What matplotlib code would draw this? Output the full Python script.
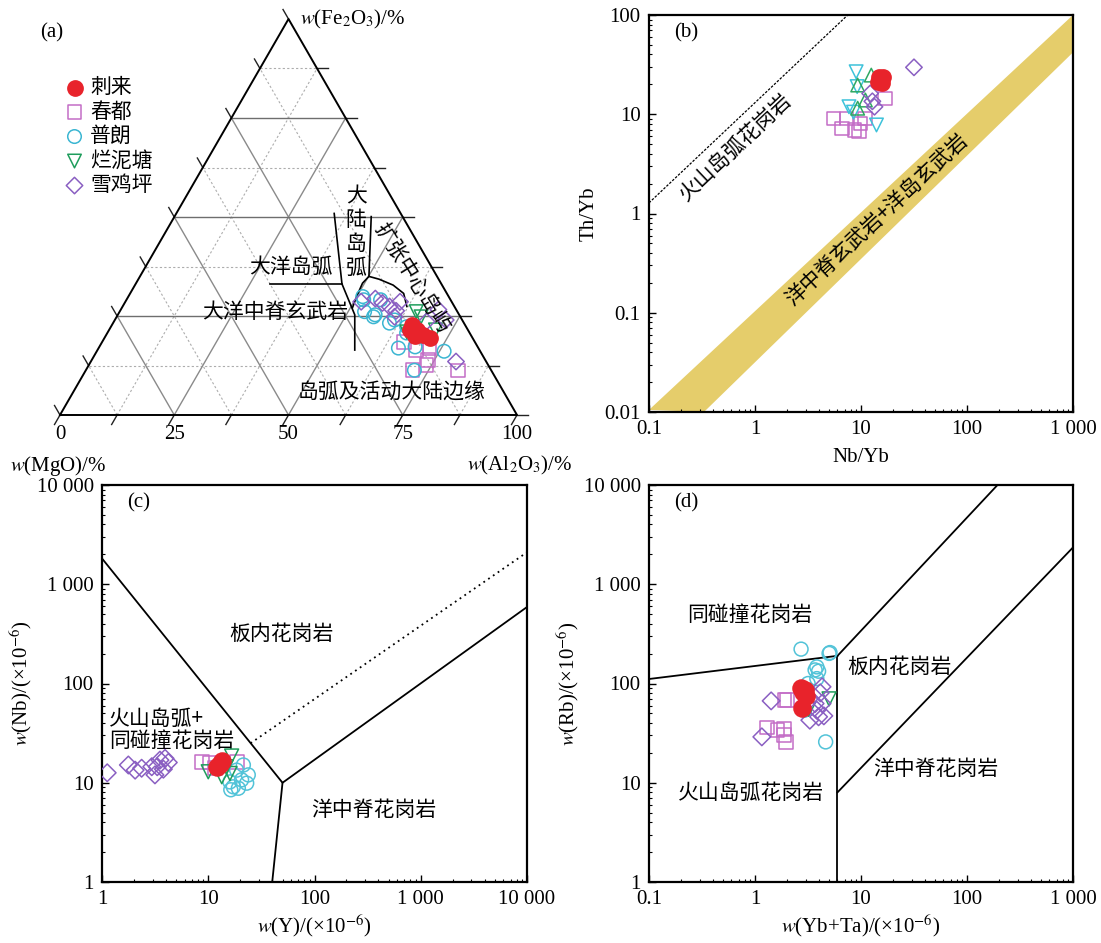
import numpy as np
import matplotlib.pyplot as plt
from matplotlib.ticker import LogLocator, FuncFormatter, NullFormatter

plt.rcParams['font.family'] = ['Liberation Serif', 'Noto Sans CJK SC']
plt.rcParams['mathtext.fontset'] = 'stix'
plt.rcParams['axes.unicode_minus'] = False

CJK = ['Noto Sans CJK SC', 'DejaVu Sans']
FS = 15

# sample groups and styles
names = ['刺来', '春都', '普朗', '烂泥塘', '雪鸡坪']
colors = ['#e8232b', '#c36dc6', '#3bb6d2', '#1f9d5c', '#8a5fc2']

# (a) MgO-Fe2O3-Al2O3, percent (MgO = 100 - Al2O3 - Fe2O3)
a_al = {
    '刺来': [65.6, 67.5, 69.4, 71.3, 67.7, 65.9],
    '春都': [66.0, 69.7, 72.4, 73.6, 73.9, 71.5, 81.5],
    '普朗': [51.3, 56.2, 53.6, 55.6, 61.2, 71.9, 65.6, 76.0, 65.5, 56.3, 69.1, 51.9, 64.7, 60.5],
    '烂泥塘': [64.9, 65.4, 71.4, 66.6],
    '雪鸡坪': [51.6, 54.3, 58.4, 60.1, 69.5, 72.4, 79.9, 68.4, 60.8, 56.4, 60.4],
}
a_fe = {
    '刺来': [22.7, 21.4, 20.2, 19.4, 20.0, 21.5],
    '春都': [18.5, 16.4, 16.9, 13.9, 12.6, 11.3, 11.2],
    '普朗': [29.9, 24.8, 26.1, 29.1, 24.0, 11.3, 16.9, 16.1, 20.7, 25.3, 17.2, 29.1, 22.3, 23.2],
    '烂泥塘': [26.1, 21.0, 21.5, 24.8],
    '雪鸡坪': [28.6, 29.4, 27.4, 28.6, 26.6, 24.0, 13.5, 23.6, 24.8, 28.3, 26.3],
}

# field boundaries in (a): (Al2O3, Fe2O3) percent
bnd_al = [[29.45, 45.15],
          [34.55, 45.15, 51.85, 56.3],
          [43.05, 50.1, 49.55, 49.9, 50.45],
          [50.1, 52.65, 56.5, 59.85, 62.2]]
bnd_fe = [[33.1, 33.1],
          [50.9, 33.1, 25.3, 16.4],
          [50.1, 35.0, 33.3, 30.25, 27.1],
          [35.0, 34.3, 32.8, 30.7, 27.4]]

# (b) Nb/Yb vs Th/Yb
b_x = {
    '刺来': [14.5, 15.3, 16.0, 14.8, 15.8],
    '春都': [5.5, 6.6, 7.3, 8.7, 9.6, 9.9, 10.9, 16.9],
    '普朗': [9.0, 7.7, 14.0, 9.2, 8.5],
    '烂泥塘': [12.5, 9.3, 11.0, 9.3],
    '雪鸡坪': [31.6, 12.2, 13.4, 12.8],
}
b_y = {
    '刺来': [21.0, 22.1, 23.5, 24.0, 20.5],
    '春都': [9.1, 7.2, 9.1, 6.9, 6.7, 8.1, 9.1, 14.4],
    '普朗': [26.8, 11.9, 7.8, 19.0, 10.5],
    '烂泥塘': [24.8, 19.7, 13.9, 11.5],
    '雪鸡坪': [29.7, 16.2, 11.9, 13.5],
}

# (c) Y vs Nb
c_x = {
    '刺来': [12.0, 12.8, 13.5],
    '春都': [8.7, 10.4, 11.6, 18.5],
    '普朗': [21.4, 23.8, 20.6, 17.2, 19.2, 16.0, 23.0, 18.5, 16.3],
    '烂泥塘': [10.0, 16.6, 13.4, 16.0, 14.8],
    '雪鸡坪': [1.12, 1.77, 2.05, 2.36, 2.94, 3.15, 3.51, 3.92, 3.78, 4.21, 3.31],
}
c_y = {
    '刺来': [14.5, 15.5, 16.5],
    '春都': [16.3, 16.0, 14.0, 16.3],
    '普朗': [15.1, 12.0, 10.7, 9.1, 8.8, 10.2, 9.9, 13.4, 8.5],
    '烂泥塘': [12.9, 18.6, 11.5, 12.4, 14.5],
    '雪鸡坪': [12.6, 15.1, 13.4, 14.0, 14.5, 12.0, 16.9, 17.6, 13.7, 16.0, 14.5],
}

# (d) Yb+Ta vs Rb
d_x = {
    '刺来': [2.7, 2.95, 3.05, 2.75, 2.85],
    '春都': [1.90, 2.0, 1.30, 1.63, 1.86, 1.86, 1.96],
    '普朗': [2.72, 5.0, 3.83, 3.69, 3.98, 3.83, 3.17, 2.93, 4.64, 5.1],
    '烂泥塘': [5.0, 3.2],
    '雪鸡坪': [1.42, 1.16, 4.29, 4.13, 3.69, 3.29, 3.98, 4.46, 4.29, 3.83],
}
d_y = {
    '刺来': [90, 86, 75, 57, 82],
    '春都': [67.5, 68, 36, 34.3, 35, 30.1, 25.8],
    '普朗': [222, 201, 147, 137, 133, 112, 100, 53.8, 25.8, 205],
    '烂泥塘': [70, 55],
    '雪鸡坪': [66.8, 29, 92.6, 80.5, 62.8, 42.7, 46.2, 47.2, 62.8, 53.8],
}

H = np.sqrt(3) / 2


def tern(al, fe):
    a = np.asarray(al) / 100.0
    f = np.asarray(fe) / 100.0
    return a + f / 2, f * H


def log_fmt(v, pos):
    if v >= 1:
        return f'{int(round(v)):,}'.replace(',', ' ')
    return f'{v:g}'


def style_log(ax, xlim, ylim):
    ax.set_xscale('log')
    ax.set_yscale('log')
    ax.set_xlim(*xlim)
    ax.set_ylim(*ylim)
    for s in ax.spines.values():
        s.set_linewidth(1.6)
    for axis in (ax.xaxis, ax.yaxis):
        axis.set_major_locator(LogLocator(base=10, numticks=10))
        axis.set_minor_locator(LogLocator(base=10, subs=np.arange(2, 10), numticks=20))
        axis.set_major_formatter(FuncFormatter(log_fmt))
        axis.set_minor_formatter(NullFormatter())
    ax.tick_params(which='major', direction='in', length=5, width=1.0, labelsize=FS, pad=6)
    ax.tick_params(which='minor', direction='in', length=2.5, width=0.8)


fig = plt.figure(figsize=(11.01, 9.43), dpi=100)

# ---------------- (a) ternary ----------------
axa = fig.add_axes([60 / 1101, 528 / 943, 457 / 1101, 396 / 943])
axa.set_xlim(0, 1)
axa.set_ylim(0, H)
axa.axis('off')

ext = 0.024
for k in range(0, 9):
    v = k / 8
    solid = k % 2 == 0
    inner = 0 < k < 8
    if inner:
        kw = dict(color='#8a8a8a', lw=1.0, ls='-') if solid else dict(color='#adadad', lw=0.8, ls=(0, (2, 2)))
        hcol = '#6e6e6e' if solid else '#adadad'
        # constant Fe2O3 (horizontal)
        axa.plot([v / 2, 1 - v / 2], [v * H, v * H], **{**kw, 'color': hcol}, zorder=1)
        # constant Al2O3
        axa.plot([v, v + (1 - v) / 2], [0, (1 - v) * H], **kw, zorder=1)
        # constant MgO
        axa.plot([1 - v, (1 - v) / 2], [0, (1 - v) * H], **kw, zorder=1)
    # outer ticks
    if k < 8:
        axa.plot([1 - v / 2, 1 - v / 2 + ext], [v * H, v * H], color='#222222', lw=1.0, clip_on=False)
    axa.plot([v, v - ext / 2], [0, -ext * H], color='#222222', lw=1.0, clip_on=False)
    axa.plot([(1 - v) / 2, (1 - v) / 2 - ext / 2], [(1 - v) * H, (1 - v) * H + ext * H],
             color='#222222', lw=1.0, clip_on=False)

axa.plot([0, 1, 0.5, 0], [0, 0, H, 0], color='black', lw=1.4, clip_on=False, zorder=3)

for bal, bfe in zip(bnd_al, bnd_fe):
    bx, by = tern(bal, bfe)
    axa.plot(bx, by, color='black', lw=1.2, zorder=3)

tern_markers = {'刺来': 'o', '春都': 's', '普朗': 'o', '烂泥塘': 'v', '雪鸡坪': 'D'}
handles = []
for n, c in zip(names, colors):
    x, y = tern(a_al[n], a_fe[n])
    filled = n == '刺来'
    m = tern_markers[n]
    h = axa.scatter(x, y, marker=m, s=(120 if filled else (70 if m == 'D' else 95)),
                    facecolors=(c if filled else 'none'), edgecolors=c,
                    linewidths=1.1, zorder=5 if filled else 4, clip_on=False)
    handles.append(h)

axa.legend(handles, names, loc='upper left', bbox_to_anchor=(62 / 1101, 1 - 76 / 943),
           bbox_transform=fig.transFigure, frameon=False, prop={'family': CJK, 'size': FS},
           handletextpad=0.15, labelspacing=0.12, borderaxespad=0, handlelength=1.2,
           borderpad=0)

txt = dict(family=CJK, fontsize=FS, ha='center', va='center', zorder=6)
axa.text(0.648, 0.400, '大\n陆\n岛\n弧', linespacing=1.1, **txt)
axa.text(0.506, 0.324, '大洋岛弧', **txt)
axa.text(0.471, 0.226, '大洋中脊玄武岩', **txt)
axa.text(0.771, 0.301, '扩张中心岛屿', rotation=-58, **txt)
axa.text(0.725, 0.051, '岛弧及活动大陆边缘', **txt)

for k, lab in enumerate(['0', '25', '50', '75', '100']):
    axa.text(k / 4, -0.022, lab, fontsize=FS, ha='center', va='top')
axa.text(-0.003, -0.085, r'$w$(MgO)/%', fontsize=FS, ha='center', va='top')
axa.text(1.005, -0.085, r'$w$(Al$_2$O$_3$)/%', fontsize=FS, ha='center', va='top')
axa.text(0.525, H, r'$w$(Fe$_2$O$_3$)/%', fontsize=FS, ha='left', va='center')
fig.text(40 / 1101, 1 - 33 / 943, '(a)', fontsize=FS, ha='left', va='center')

# ---------------- (b) Th/Yb - Nb/Yb ----------------
axb = fig.add_axes([649 / 1101, 531 / 943, 424 / 1101, 397 / 943])
style_log(axb, (0.1, 1000), (0.01, 100))
band_x = [0.1, 1000, 1000, 0.33]
band_y = [0.0105, 100, 42, 0.01]
axb.fill(band_x, band_y, color='#e5cd6b', lw=0, zorder=1)
axb.plot([0.1, 7.5], [1.28, 100], color='black', lw=0.9, ls=(0, (2, 1.2)), zorder=2)
axb.text(0.66, 4.7, '火山岛弧花岗岩', rotation=43.4, **txt)
axb.text(14, 0.86, '洋中脊玄武岩+洋岛玄武岩', rotation=43.1, **txt)
b_markers = {'刺来': 'o', '春都': 's', '普朗': 'v', '烂泥塘': '^', '雪鸡坪': 'D'}
b_colors = dict(zip(names, colors))
b_colors['普朗'] = '#3dc2da'
b_colors['烂泥塘'] = '#2fa862'
for n in names:
    filled = n == '刺来'
    m = b_markers[n]
    axb.scatter(b_x[n], b_y[n], marker=m, s=(120 if filled else (70 if m == 'D' else 95)),
                facecolors=(b_colors[n] if filled else 'none'), edgecolors=b_colors[n],
                linewidths=1.1, zorder=5 if filled else 4)
axb.text(0.06, 0.955, '(b)', transform=axb.transAxes, fontsize=FS, ha='left', va='center')
axb.set_xlabel('Nb/Yb', fontsize=FS, labelpad=6)
axb.set_ylabel('Th/Yb', fontsize=FS, labelpad=4)

# ---------------- (c) Nb - Y ----------------
axc = fig.add_axes([102 / 1101, 61 / 943, 425 / 1101, 397 / 943])
style_log(axc, (1, 10000), (1, 10000))
axc.plot([1, 50, 10000], [1820, 10, 590], color='black', lw=1.3, zorder=2)
axc.plot([50, 40], [10, 1], color='black', lw=1.3, zorder=2)
axc.plot([25, 10000], [25, 2100], color='black', lw=1.3, ls=(0, (1, 2.2)), zorder=2)
axc.text(48.5, 319, '板内花岗岩', **txt)
axc.text(1.16, 34, '火山岛弧+\n同碰撞花岗岩', family=CJK, fontsize=FS, ha='left', va='center',
         linespacing=1.05)
axc.text(365, 5.36, '洋中脊花岗岩', **txt)
c_markers = {'刺来': 'o', '春都': 's', '普朗': 'o', '烂泥塘': 'v', '雪鸡坪': 'D'}
for n, c in zip(names, colors):
    filled = n == '刺来'
    m = c_markers[n]
    cc = '#52c3d8' if n == '普朗' else c
    axc.scatter(c_x[n], c_y[n], marker=m, s=(150 if filled else (80 if m == 'D' else 100)),
                facecolors=(cc if filled else 'none'), edgecolors=cc,
                linewidths=1.1, zorder=5 if filled else 4)
axc.text(0.06, 0.955, '(c)', transform=axc.transAxes, fontsize=FS, ha='left', va='center')
axc.set_xlabel(r'$w$(Y)/(×10$^{-6}$)', fontsize=FS, labelpad=2)
axc.set_ylabel(r'$w$(Nb)/(×10$^{-6}$)', fontsize=FS, labelpad=2)

# ---------------- (d) Rb - (Yb+Ta) ----------------
axd = fig.add_axes([649 / 1101, 61 / 943, 424 / 1101, 397 / 943])
style_log(axd, (0.1, 1000), (1, 10000))
axd.plot([0.1, 6], [111, 190], color='black', lw=1.3, zorder=2)
axd.plot([6, 6], [1, 190], color='black', lw=1.3, zorder=2)
axd.plot([6, 194], [190, 10000], color='black', lw=1.3, zorder=2)
axd.plot([6, 1000], [8, 2350], color='black', lw=1.3, zorder=2)
axd.text(0.90, 489, '同碰撞花岗岩', **txt)
axd.text(23, 147, '板内花岗岩', **txt)
axd.text(51, 13.6, '洋中脊花岗岩', **txt)
axd.text(0.91, 7.8, '火山岛弧花岗岩', **txt)
for n, c in zip(names, colors):
    filled = n == '刺来'
    m = c_markers[n]
    cc = '#52c3d8' if n == '普朗' else c
    axd.scatter(d_x[n], d_y[n], marker=m, s=(150 if filled else (80 if m == 'D' else 100)),
                facecolors=(cc if filled else 'none'), edgecolors=cc,
                linewidths=1.1, zorder=5 if filled else 4)
axd.text(0.06, 0.955, '(d)', transform=axd.transAxes, fontsize=FS, ha='left', va='center')
axd.set_xlabel(r'$w$(Yb+Ta)/(×10$^{-6}$)', fontsize=FS, labelpad=2)
axd.set_ylabel(r'$w$(Rb)/(×10$^{-6}$)', fontsize=FS, labelpad=2)

fig.savefig('out.png', dpi=100)
